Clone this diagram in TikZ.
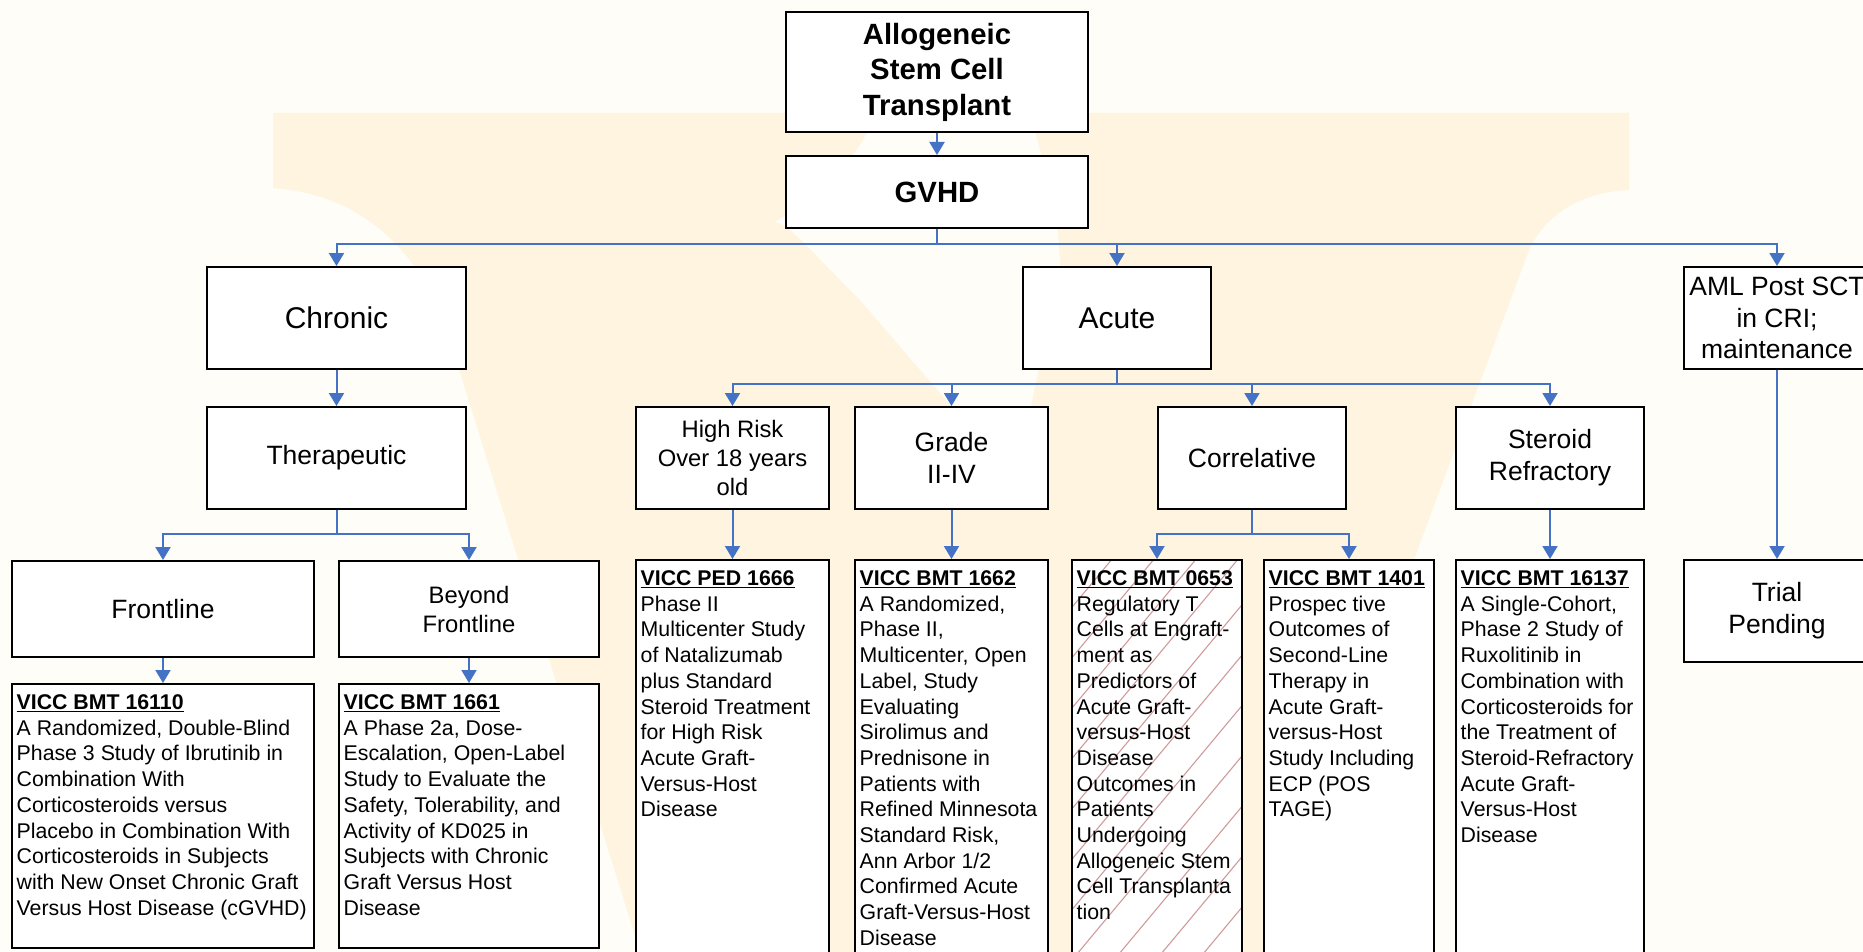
\documentclass[tikz,border=0pt]{standalone}
\usepackage{fontspec}
\setmainfont{Liberation Sans}
\definecolor{vuBlue}{HTML}{4472C4}
\definecolor{vuBeige}{HTML}{FEF4DF}
\definecolor{vuPaper}{HTML}{FFFDF7}
\definecolor{vuHatch}{HTML}{D09A9A}
\usetikzlibrary{
	arrows.meta,
	positioning,
	calc
}
\newcommand{\tituloEstudio}[1]{\textbf{\underline{#1}}}
\tikzset{
	caja/.style={
		draw=black,
		line width=2pt,
		fill=white,
		align=center,
		inner sep=4pt,
		font=\fontsize{26.5}{31.8}\selectfont
	},
	cajaGrande/.style={
		caja,
		font=\fontsize{30}{36}\selectfont
	},
	cajaChica/.style={
		caja,
		font=\fontsize{23.8}{29}\selectfont
	},
	cajaTitulo/.style={
		caja,
		font=\fontsize{29.3}{35.5}\selectfont\bfseries
	},
	estudio/.style={
		draw=black,
		line width=2pt,
		fill=white,
		inner sep=0pt
	},
	textoEstudio/.style={
		anchor=north west,
		align=left,
		inner xsep=5.5pt,
		inner ysep=11.5pt,
		font=\fontsize{21.3}{25.7}\selectfont
	},
	rayado/.style={
		path picture={
			\foreach \k in {-10,...,5}
				\draw[vuHatch, line width=1.1pt] ($(path picture bounding box.south west)+(\k*42,0)$) -- ++(500,-600);
		}
	},
	flecha/.style={
		-{Triangle[length=13pt, width=15pt]},
		line width=2pt,
		vuBlue
	}
}

\begin{document}
\begin{tikzpicture}[x=1pt, y=-1pt, node distance=24pt]
	\useasboundingbox (0,0) rectangle (1863,952);
	\clip (0,0) rectangle (1863,952);
	% fondo y marca de agua
	\fill[vuPaper] (0,0) rectangle (1863,952);
	\fill[vuBeige] (273,113) -- (1629,113) -- (1629,190) .. controls (1580,192) and (1545,215) .. (1529,250)
		-- (1268,952) -- (640,952) -- (450,340) .. controls (425,260) and (370,195) .. (273,188) -- cycle;
	\fill[vuPaper] (878,105) -- (1028,105) .. controls (1045,170) and (1060,215) .. (1060,270) -- (1015,480)
		-- (860,300) .. controls (800,240) and (790,225) .. (775,222) .. controls (830,190) and (865,150) .. (878,105) -- cycle;

	% niveles superiores
	\node[cajaTitulo, minimum width=302pt, minimum height=120pt] (alo) at (937,72) {Allogeneic\\Stem Cell\\Transplant};
	\node[cajaTitulo, minimum width=302pt, minimum height=72pt, below=22pt of alo] (gvhd) {GVHD};
	\node[cajaGrande, minimum width=259pt, minimum height=102pt] (cronica) at (336.5,318) {Chronic};
	\node[cajaGrande, minimum width=188pt, minimum height=102pt] (aguda) at (1117,318) {Acute};
	\node[caja, minimum width=186pt, minimum height=102pt] (aml) at (1777,318) {AML Post SCT\\in CRI;\\maintenance};
	\node[caja, minimum width=259pt, minimum height=102pt, below=36pt of cronica] (terap) {Therapeutic};
	\node[cajaChica, minimum width=193pt, minimum height=102pt] (alto) at (732.5,458) {High Risk\\Over 18 years\\old};
	\node[caja, minimum width=193pt, minimum height=102pt] (grado) at (951.5,458) {Grade\\II-IV};
	\node[caja, minimum width=188pt, minimum height=102pt] (correl) at (1252,458) {Correlative};
	\node[caja, minimum width=188pt, minimum height=102pt] (refract) at (1550,458) {Steroid\\Refractory};
	\node[caja, minimum width=302pt, minimum height=96pt] (primera) at (163,609) {Frontline};
	\node[cajaChica, minimum width=260pt, minimum height=96pt] (mas) at (469,609) {Beyond\\Frontline};
	\node[caja, minimum width=186pt, minimum height=102pt, below=189pt of aml] (trial) {Trial\\Pending};

	% estudios
	\node[estudio, minimum width=302pt, minimum height=264pt, below=25pt of primera] (e16110) {};
	\node[estudio, minimum width=260pt, minimum height=264pt, below=25pt of mas] (e1661) {};
	\node[estudio, minimum width=193pt, minimum height=400pt, below=49pt of alto] (e1666) {};
	\node[estudio, minimum width=193pt, minimum height=400pt, below=49pt of grado] (e1662) {};
	\node[estudio, rayado, minimum width=170pt, minimum height=400pt] (e0653) at (1157,760) {};
	\node[estudio, minimum width=170pt, minimum height=400pt] (e1401) at (1349,760) {};
	\node[estudio, minimum width=188pt, minimum height=400pt, below=49pt of refract] (e16137) {};

	\node[textoEstudio] (t16110) at (e16110.north west) {\tituloEstudio{VICC BMT 16110}\\A Randomized, Double-Blind\\Phase 3 Study of Ibrutinib in\\Combination With\\Corticosteroids versus\\Placebo in Combination With\\Corticosteroids in Subjects\\with New Onset Chronic Graft\\Versus Host Disease (cGVHD)};
	\node[textoEstudio] (t1661) at (e1661.north west) {\tituloEstudio{VICC BMT 1661}\\A Phase 2a, Dose-\\Escalation, Open-Label\\Study to Evaluate the\\Safety, Tolerability, and\\Activity of KD025 in\\Subjects with Chronic\\Graft Versus Host\\Disease};
	\node[textoEstudio] (t1666) at (e1666.north west) {\tituloEstudio{VICC PED 1666}\\Phase II\\Multicenter Study\\of Natalizumab\\plus Standard\\Steroid Treatment\\for High Risk\\Acute Graft-\\Versus-Host\\Disease};
	\node[textoEstudio] (t1662) at (e1662.north west) {\tituloEstudio{VICC BMT 1662}\\A Randomized,\\Phase II,\\Multicenter, Open\\Label, Study\\Evaluating\\Sirolimus and\\Prednisone in\\Patients with\\Refined Minnesota\\Standard Risk,\\Ann Arbor 1/2\\Confirmed Acute\\Graft-Versus-Host\\Disease};
	\node[textoEstudio] (t0653) at (e0653.north west) {\tituloEstudio{VICC BMT 0653}\\Regulatory T\\Cells at Engraft-\\ment as\\Predictors of\\Acute Graft-\\versus-Host\\Disease\\Outcomes in\\Patients\\Undergoing\\Allogeneic Stem\\Cell Transplanta\\tion};
	\node[textoEstudio] (t1401) at (e1401.north west) {\tituloEstudio{VICC BMT 1401}\\Prospec tive\\Outcomes of\\Second-Line\\Therapy in\\Acute Graft-\\versus-Host\\Study Including\\ECP (POS\\TAGE)};
	\node[textoEstudio] (t16137) at (e16137.north west) {\tituloEstudio{VICC BMT 16137}\\A Single-Cohort,\\Phase 2 Study of\\Ruxolitinib in\\Combination with\\Corticosteroids for\\the Treatment of\\Steroid-Refractory\\Acute Graft-\\Versus-Host\\Disease};

	% conectores
	\coordinate (busGvhd) at ($(gvhd.south)+(0,15)$);
	\coordinate (busTerap) at ($(terap.south)+(0,24)$);
	\coordinate (busAguda) at ($(aguda.south)+(0,14)$);
	\coordinate (busCorrel) at ($(correl.south)+(0,24)$);
	\draw[flecha] (alo.south) -- (gvhd.north);
	\draw[flecha] (gvhd.south) -- (busGvhd) -| (cronica.north);
	\draw[flecha] (busGvhd) -| (aguda.north);
	\draw[flecha] (busGvhd) -| (aml.north);
	\draw[flecha] (cronica.south) -- (terap.north);
	\draw[flecha] (terap.south) -- (busTerap) -| (primera.north);
	\draw[flecha] (busTerap) -| (mas.north);
	\draw[flecha] (primera.south) -- (e16110.north);
	\draw[flecha] (mas.south) -- (e1661.north);
	\draw[flecha] (aguda.south) -- (busAguda) -| (alto.north);
	\draw[flecha] (busAguda) -| (grado.north);
	\draw[flecha] (busAguda) -| (correl.north);
	\draw[flecha] (busAguda) -| (refract.north);
	\draw[flecha] (alto.south) -- (e1666.north);
	\draw[flecha] (grado.south) -- (e1662.north);
	\draw[flecha] (correl.south) -- (busCorrel) -| (e0653.north);
	\draw[flecha] (busCorrel) -| (e1401.north);
	\draw[flecha] (refract.south) -- (e16137.north);
	\draw[flecha] (aml.south) -- (trial.north);
\end{tikzpicture}
\end{document}
